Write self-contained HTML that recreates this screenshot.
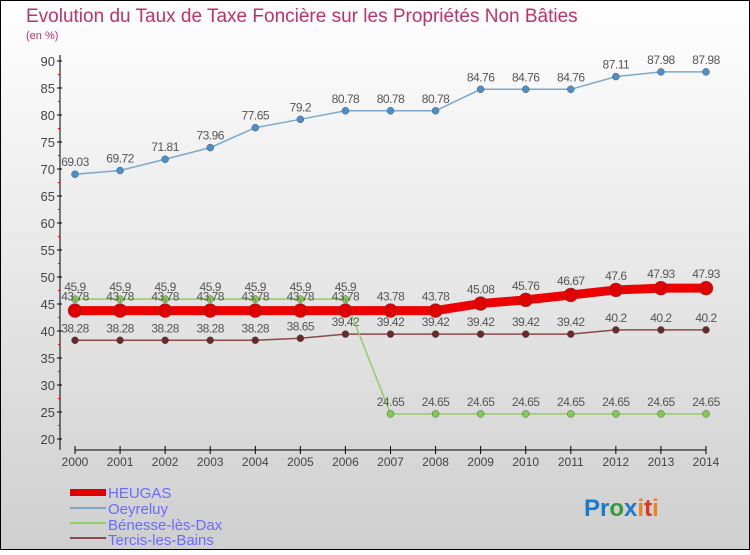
<!DOCTYPE html>
<html><head><meta charset="utf-8"><style>
body{margin:0}
#c{width:750px;height:550px;position:relative;font-family:"Liberation Sans",sans-serif;}
</style></head><body>
<div id="c">
<svg id="s" width="750" height="550" xmlns="http://www.w3.org/2000/svg">
<defs><linearGradient id="bg" x1="0" y1="0" x2="0" y2="1"><stop offset="0" stop-color="#ffffff"/><stop offset="1" stop-color="#cfcfcf"/></linearGradient></defs>
<rect x="0.5" y="0.5" width="749" height="549" fill="url(#bg)" stroke="#000"/>
<text x="26" y="22" font-size="19" fill="#c0306a">Evolution du Taux de Taxe Foncière sur les Propriétés Non Bâties</text>
<text x="26" y="39" font-size="11" fill="#c0306a">(en %)</text>
<g id="axes"></g><g id="series"></g>
<g font-size="15" fill="#6b6bff">
<rect x="70" y="489" width="36" height="7" fill="#e00000"/>
<text x="108" y="498">HEUGAS</text>
<line x1="70" y1="508" x2="106" y2="508" stroke="#7aa8cc" stroke-width="2"/>
<text x="108" y="514">Oeyreluy</text>
<line x1="70" y1="523" x2="106" y2="523" stroke="#90d060" stroke-width="2"/>
<text x="108" y="530">Bénesse-lès-Dax</text>
<line x1="70" y1="538" x2="106" y2="538" stroke="#8a4a4a" stroke-width="2"/>
<text x="108" y="545">Tercis-les-Bains</text>
</g>
<text x="584" y="516" font-size="24" font-weight="bold"><tspan fill="#1a7acc">Pr</tspan><tspan fill="#3a9a3a">o</tspan><tspan fill="#1a7acc">x</tspan><tspan fill="#f08020">i</tspan><tspan fill="#e03020">t</tspan><tspan fill="#f08020">i</tspan></text>
</svg></div>
<script>
const years=[2000,2001,2002,2003,2004,2005,2006,2007,2008,2009,2010,2011,2012,2013,2014];
const yTicks=[20,25,30,35,40,45,50,55,60,65,70,75,80,85,90];
const heugas=[43.78,43.78,43.78,43.78,43.78,43.78,43.78,43.78,43.78,45.08,45.76,46.67,47.6,47.93,47.93];
const oeyreluy=[69.03,69.72,71.81,73.96,77.65,79.2,80.78,80.78,80.78,84.76,84.76,84.76,87.11,87.98,87.98];
const benesse=[45.9,45.9,45.9,45.9,45.9,45.9,45.9,24.65,24.65,24.65,24.65,24.65,24.65,24.65,24.65];
const tercis=[38.28,38.28,38.28,38.28,38.28,38.65,39.42,39.42,39.42,39.42,39.42,39.42,40.2,40.2,40.2];
const NS="http://www.w3.org/2000/svg";
function X(i){return 75+i*(706-75)/(years.length-1);}
function Y(v){return 61+(90-v)*5.4;}
function mk(t,a,p){const e=document.createElementNS(NS,t);for(const k in a)e.setAttribute(k,a[k]);p.appendChild(e);return e;}
const ax=document.getElementById('axes'),sg=document.getElementById('series');
let l=mk('line',{x1:60,y1:55,x2:60,y2:450,stroke:'#000'},ax);


l=mk('line',{x1:75,y1:450,x2:706,y2:450,stroke:'#000'},ax);


yTicks.forEach(v=>{const y=Y(v);
 mk('line',{x1:57,y1:y,x2:62,y2:y,stroke:'#000'},ax);
 if(v<90)mk('line',{x1:58,y1:y-13.5,x2:60,y2:y-13.5,stroke:'#e00'},ax);
 const t=mk('text',{x:55,y:y+5,'font-size':13,fill:'#444','text-anchor':'end'},ax);t.textContent=v;
 
 });
years.forEach((yr,i)=>{const x=X(i);
 mk('line',{x1:x,y1:446,x2:x,y2:454,stroke:'#000'},ax);
 const t=mk('text',{x:x,y:466,'font-size':12,fill:'#444','text-anchor':'middle'},ax);t.textContent=yr;
 
 });
function series(d,col,w,r,fill,name,lblDy){
 const g=mk('g',{},sg);
 
 
 mk('polyline',{points:d.map((v,i)=>X(i)+','+Y(v)).join(' '),fill:'none',stroke:col,'stroke-width':w},g);
 d.forEach((v,i)=>{const c=mk('circle',{cx:X(i),cy:Y(v),r:r,fill:fill,stroke:'#555','stroke-width':0.5},g);
  
  
  const t=mk('text',{x:X(i),y:Y(v)+lblDy,'font-size':12,fill:'#555','text-anchor':'middle','letter-spacing':'-0.5'},g);t.textContent=v;
  
  });
}
series(oeyreluy,'#7aa8cc',1.5,3.5,'#4a90cc','oeyreluy',-8);
series(tercis,'#8a4a4a',1.5,3.5,'#6a2a2a','tercis',-8);
series(benesse,'#90d060',1.5,3.5,'#80cc50','benesse',-8);
series(heugas,'#ee0000',9,7,'#e00000','heugas',-10);
</script>
</body></html>
